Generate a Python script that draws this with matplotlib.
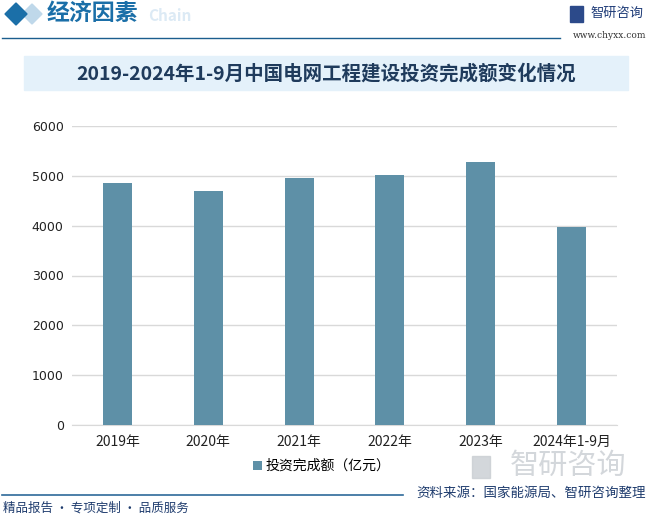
import matplotlib
matplotlib.use("Agg")
import matplotlib.pyplot as plt
from matplotlib.patches import Rectangle, Polygon

plt.rcParams['font.family'] = ['Noto Sans CJK SC', 'DejaVu Sans']

categories = ["2019年", "2020年", "2021年", "2022年", "2023年", "2024年1-9月"]
values = [4859, 4699, 4960, 5020, 5287, 3982]
yticks = [0, 1000, 2000, 3000, 4000, 5000, 6000]
series_name = "投资完成额（亿元）"
title = "2019-2024年1-9月中国电网工程建设投资完成额变化情况"

W, H = 648, 517
fig = plt.figure(figsize=(W / 100, H / 100), dpi=100)

def fx(x):
    return x / W

def fy(y):
    return 1 - y / H

# header
fig.patches.append(Polygon([(fx(22), fy(14)), (fx(32), fy(4)), (fx(42), fy(14)), (fx(32), fy(24))],
                           closed=True, transform=fig.transFigure, color='#BFD8EA', zorder=0))
fig.patches.append(Polygon([(fx(5), fy(14)), (fx(16), fy(3)), (fx(27), fy(14)), (fx(16), fy(25))],
                           closed=True, transform=fig.transFigure, color='#1B6FA8'))
fig.text(fx(148), fy(16), "Chain", fontsize=11, color='#DCEAF5', fontweight='bold', va='center', ha='left')
fig.text(fx(47), fy(13), "经济因素", fontsize=16.5, color='#1B6FA8', fontweight='bold', va='center', ha='left')
fig.add_artist(plt.Line2D([fx(2), fx(560)], [fy(38), fy(38)], color='#1B5E8E', lw=1.0, transform=fig.transFigure))
fig.patches.append(Rectangle((fx(570), fy(22)), 13 / W, 16 / H, transform=fig.transFigure, color='#2C4A8A'))
fig.text(fx(590), fy(13), "智研咨询", fontsize=9.5, color='#1F3C78', va='center', ha='left')
fig.text(fx(646), fy(35), "www.chyxx.com", fontsize=6.5, color='#333333', va='center', ha='right', family='DejaVu Serif')

# title band
fig.patches.append(Rectangle((fx(24), fy(90)), 604 / W, 34 / H, transform=fig.transFigure,
                             color='#E4F1FA', zorder=0))
fig.text(fx(326), fy(74), title, fontsize=14, color='#1F3B5C', fontweight='bold', va='center', ha='center')

# axes
ax = fig.add_axes([fx(72), fy(425), (617 - 72) / W, (425 - 126) / H])
x = range(len(categories))
ax.bar(x, values, width=0.32, color='#5E90A7', zorder=3, label=series_name)
ax.set_xlim(-0.5, len(categories) - 0.5)
ax.set_ylim(0, 6000)
ax.set_yticks(yticks)
ax.set_yticklabels([str(v) for v in yticks], fontsize=9, color='#222222', family='DejaVu Sans')
ax.set_xticks(list(x))
ax.set_xticklabels(categories, fontsize=10, color='#222222')
ax.tick_params(length=0, pad=6)
ax.tick_params(axis='x', pad=7)
ax.grid(axis='y', color='#D9D9D9', lw=1, zorder=0)
for s in ['top', 'right', 'left']:
    ax.spines[s].set_visible(False)
ax.spines['bottom'].set_color('#D9D9D9')
ax.set_facecolor('none')

leg = fig.legend(loc='center', bbox_to_anchor=(fx(322), fy(466)), frameon=False, fontsize=10,
                 handlelength=0.6, handleheight=0.6, handletextpad=0.3)

# watermark logo bottom right
fig.text(fx(568), fy(466), "智研咨询", fontsize=21, color='#C9CDD2', va='center', ha='center', alpha=0.8)
fig.patches.append(Rectangle((fx(472), fy(478)), 18 / W, 22 / H, transform=fig.transFigure, color='#C9CDD2', alpha=0.8))

# footer
fig.add_artist(plt.Line2D([fx(2), fx(403)], [fy(495), fy(495)], color='#2E6A9A', lw=1.2, transform=fig.transFigure))
fig.text(fx(3), fy(508), "精品报告 · 专项定制 · 品质服务", fontsize=9, color='#1F3C6E', va='center', ha='left')
fig.text(fx(646), fy(493), "资料来源：国家能源局、智研咨询整理", fontsize=9.7, color='#1F3C6E', va='center', ha='right')

fig.savefig("out.png", dpi=100)
